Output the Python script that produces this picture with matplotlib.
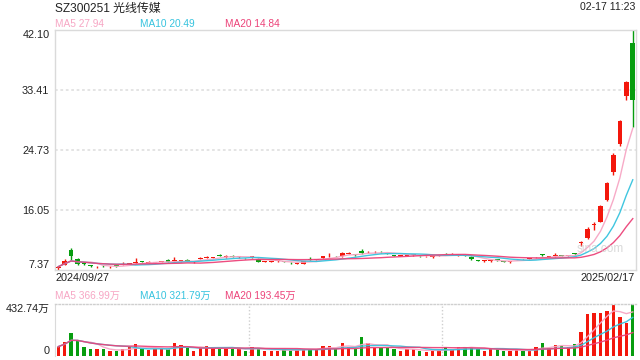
import numpy as np
import pandas as pd
import matplotlib
matplotlib.use("Agg")
import matplotlib.pyplot as plt

plt.rcParams['font.family'] = ['Liberation Sans', 'Noto Sans CJK SC']

title = "SZ300251 光线传媒"
timestamp = "02-17 11:23"
start_label = "2024/09/27"
end_label = "2025/02/17"

opens = [7.55, 8.06, 10.2, 8.9, 8.25, 7.95, 7.7, 7.9, 7.7, 7.92,
         8.05, 8.15, 8.38, 8.52, 8.38, 8.38, 8.45, 8.8, 8.58, 8.58,
         8.8, 8.4, 8.9, 9.08, 9.08, 9.4, 9.18, 9.4, 9.18, 9.05,
         9.18, 8.94, 8.48, 8.48, 8.58, 8.52, 8.32, 8.18, 8.2, 8.82,
         8.78, 9.1, 9.28, 9.32, 9.3, 9.68, 9.52, 10.1, 9.88, 9.88,
         9.92, 9.72, 9.42, 9.38, 9.38, 9.48, 9.32, 9.28, 9.18, 9.38,
         9.62, 9.55, 9.46, 9.4, 9.23, 8.68, 8.58, 8.58, 8.77, 8.52,
         8.44, 8.83, 8.87, 8.92, 9.12, 9.5, 9.21, 9.31, 9.4, 9.38,
         9.64, 11.2, 11.9, 13.8, 14.3, 17.47, 21.5, 25.57, 32.6, 40.15]
closes = [7.78, 8.64, 9.4, 8.15, 8.18, 7.9, 7.75, 7.85, 7.75, 7.88,
          8.1, 8.2, 8.45, 8.48, 8.42, 8.42, 8.52, 8.52, 8.62, 8.63,
          8.62, 8.45, 9.1, 9.12, 9.12, 9.36, 9.22, 9.25, 9.22, 9.0,
          9.22, 8.5, 8.52, 8.52, 8.62, 8.48, 8.28, 8.22, 8.6, 8.78,
          8.82, 9.3, 9.32, 9.28, 9.8, 9.72, 9.48, 9.7, 9.92, 9.92,
          9.88, 9.68, 9.38, 9.42, 9.42, 9.52, 9.28, 9.32, 9.22, 9.42,
          9.58, 9.6, 9.5, 9.36, 8.85, 8.64, 8.62, 8.62, 8.73, 8.48,
          8.48, 8.87, 8.83, 8.96, 9.16, 9.46, 9.25, 9.35, 9.36, 9.42,
          9.6, 11.3, 13.2, 13.88, 16.6, 19.9, 24.0, 28.85, 34.6, 31.9]
highs = [7.95, 8.95, 10.55, 9.1, 8.4, 8.05, 7.85, 8.0, 7.85, 8.0,
         8.4, 8.3, 9.0, 8.6, 8.55, 8.5, 8.65, 8.85, 9.2, 8.75,
         8.85, 8.55, 9.2, 9.35, 9.25, 9.55, 9.45, 9.45, 9.35, 9.1,
         9.4, 9.0, 8.6, 8.6, 8.7, 8.65, 8.4, 8.3, 8.65, 9.2,
         8.9, 9.35, 9.7, 9.4, 9.85, 9.85, 9.6, 10.3, 10.0, 10.1,
         10.1, 9.8, 9.5, 9.5, 9.5, 9.6, 9.4, 9.4, 9.3, 9.5,
         9.7, 9.7, 9.6, 9.5, 9.3, 8.75, 8.7, 8.7, 8.85, 8.6,
         8.55, 8.95, 8.95, 9.05, 9.25, 9.6, 9.35, 9.7, 9.5, 9.5,
         9.7, 11.55, 13.6, 14.2, 16.7, 20.0, 24.2, 29.0, 34.77, 42.10]
lows = [7.37, 8.0, 8.75, 8.0, 8.05, 7.8, 7.62, 7.75, 7.6, 7.8,
        8.0, 8.1, 8.35, 8.4, 8.3, 8.3, 8.4, 8.45, 8.5, 8.5,
        8.55, 8.3, 8.85, 9.0, 9.0, 9.3, 9.05, 9.2, 9.1, 8.9,
        9.1, 8.45, 8.4, 8.4, 8.5, 8.4, 8.2, 8.1, 8.1, 8.7,
        8.7, 9.05, 9.2, 9.2, 9.25, 9.6, 9.4, 9.65, 9.8, 9.8,
        9.8, 9.6, 9.3, 9.3, 9.3, 9.4, 9.2, 9.2, 9.1, 9.3,
        9.5, 9.5, 9.4, 9.3, 8.8, 8.55, 8.5, 8.5, 8.65, 8.4,
        8.38, 8.75, 8.75, 8.85, 9.05, 9.4, 9.15, 9.25, 9.3, 9.3,
        9.5, 10.8, 11.75, 13.1, 14.2, 17.3, 21.1, 25.3, 32.0, 28.0]
volumes = [78, 119, 194, 128, 78, 55, 55, 55, 44, 44,
           55, 78, 100, 61, 50, 55, 58, 55, 111, 92,
           69, 44, 64, 83, 64, 61, 61, 61, 61, 44,
           72, 61, 44, 44, 44, 55, 50, 50, 61, 55,
           61, 83, 83, 61, 111, 78, 61, 161, 105, 67,
           67, 67, 61, 44, 55, 55, 44, 36, 44, 50,
           72, 55, 78, 78, 78, 55, 44, 55, 55, 44,
           44, 50, 44, 44, 78, 111, 67, 92, 86, 72,
           100, 202, 352, 361, 361, 374, 424, 327, 277, 432.74]

ma_windows = [5, 10, 20]
ma_colors = ['#f7a6c4', '#36c3de', '#ec4379']
price_ma_labels = ["MA5 27.94", "MA10 20.49", "MA20 14.84"]
vol_ma_labels = ["MA5 366.99万", "MA10 321.79万", "MA20 193.45万"]

RED = '#f3170c'
GREEN = '#079d0f'
GRID = '#dadada'

df = pd.DataFrame({'o': opens, 'c': closes, 'h': highs, 'l': lows, 'v': volumes})
x = np.arange(len(df))
up = df['c'] >= df['o']
cols = np.where(up, RED, GREEN)

W, H = 640, 360
fig = plt.figure(figsize=(6.4, 3.6), dpi=100)
fig.patch.set_facecolor('white')

def fx(px):
    return px / W

def fy(py):
    return 1 - py / H

ax = fig.add_axes([fx(55), fy(269.5), fx(636) - fx(55), fy(30) - fy(269.5)])
axv = fig.add_axes([fx(55), fy(356), fx(636) - fx(55), fy(304) - fy(356)])

pmin, pmax = min(lows), max(highs)
ax.set_xlim(-0.5, len(df) - 0.5)
ax.set_ylim(pmin, pmax)
yt = np.linspace(pmin, pmax, 5)
for v in yt[1:-1]:
    ax.axhline(v, color='#e2e2e2', lw=1.3, ls=(0, (1.5, 1.5)), zorder=0)

# candles
ax.vlines(x, df['l'], df['h'], colors=cols, lw=1.0, zorder=2)
body_bottom = np.minimum(df['o'], df['c'])
body_h = np.maximum(np.abs(df['c'] - df['o']), 0.1)
ax.bar(x, body_h, bottom=body_bottom, width=0.72, color=cols, lw=0, zorder=3)

for w, c in zip(ma_windows, ma_colors):
    ma = df['c'].rolling(w, min_periods=1).mean()
    ax.plot(x, ma, color=c, lw=1.0, zorder=4, alpha=0.95)

ax.set_yticks(yt)
ax.set_yticklabels([f"{np.floor(v * 100 + 1e-6) / 100:.2f}" for v in yt])
ax.set_xticks([])
ax.tick_params(axis='y', length=0, pad=4, labelsize=7.8, colors='#222222')
tl = ax.get_yticklabels()
tl[0].set_va('bottom')
tl[-1].set_va('top')
for s in ax.spines.values():
    s.set_color(GRID)
    s.set_linewidth(1.0)

fig.text(fx(624), fy(249), "sina.com", fontsize=8.5, color='#c9c9c9',
         ha='right', va='center', alpha=0.7, zorder=1)

# volume
vmax = max(volumes)
axv.set_xlim(-0.5, len(df) - 0.5)
axv.set_ylim(0, vmax)
axv.bar(x, df['v'], width=0.52, color=cols, lw=0, zorder=2)
for w, c in zip(ma_windows, ma_colors):
    ma = df['v'].rolling(w, min_periods=1).mean()
    axv.plot(x, ma, color=c, lw=1.0, zorder=3, alpha=0.95)
for xv in [len(df) / 3 - 0.5, 2 * len(df) / 3 - 0.5]:
    axv.axvline(xv, color='#cfcfcf', lw=1.0, ls=(0, (1, 1.5)), zorder=0)
axv.set_xticks([])
axv.set_yticks([0, vmax])
axv.set_yticklabels(["0", f"{vmax:.2f}万"])
axv.tick_params(axis='y', length=0, pad=4, labelsize=7.8, colors='#222222')
vl = axv.get_yticklabels()
vl[0].set_va('bottom')
vl[-1].set_va('top')
for k in ['right', 'bottom']:
    axv.spines[k].set_visible(False)
axv.spines['left'].set_color(GRID)
axv.spines['top'].set_color('#cfcfcf')
axv.spines['top'].set_linestyle((0, (1, 1.5)))
axv.spines['top'].set_linewidth(1.0)

# header texts
fig.text(fx(55), fy(8.5), title, fontsize=8.6, color='#222222', ha='left', va='center')
fig.text(fx(635), fy(7.5), timestamp, fontsize=7.6, color='#222222', ha='right', va='center')
for xp, lab, c in zip([55, 140, 225], price_ma_labels, ma_colors):
    fig.text(fx(xp), fy(24), lab, fontsize=7.3, color=c, ha='left', va='center')
for xp, lab, c in zip([55, 140, 225], vol_ma_labels, ma_colors):
    fig.text(fx(xp), fy(296), lab, fontsize=7.3, color=c, ha='left', va='center')
fig.text(fx(55), fy(278), start_label, fontsize=7.8, color='#222222', ha='left', va='center')
fig.text(fx(635), fy(278), end_label, fontsize=7.8, color='#222222', ha='right', va='center')

fig.savefig("out.png", dpi=100)
